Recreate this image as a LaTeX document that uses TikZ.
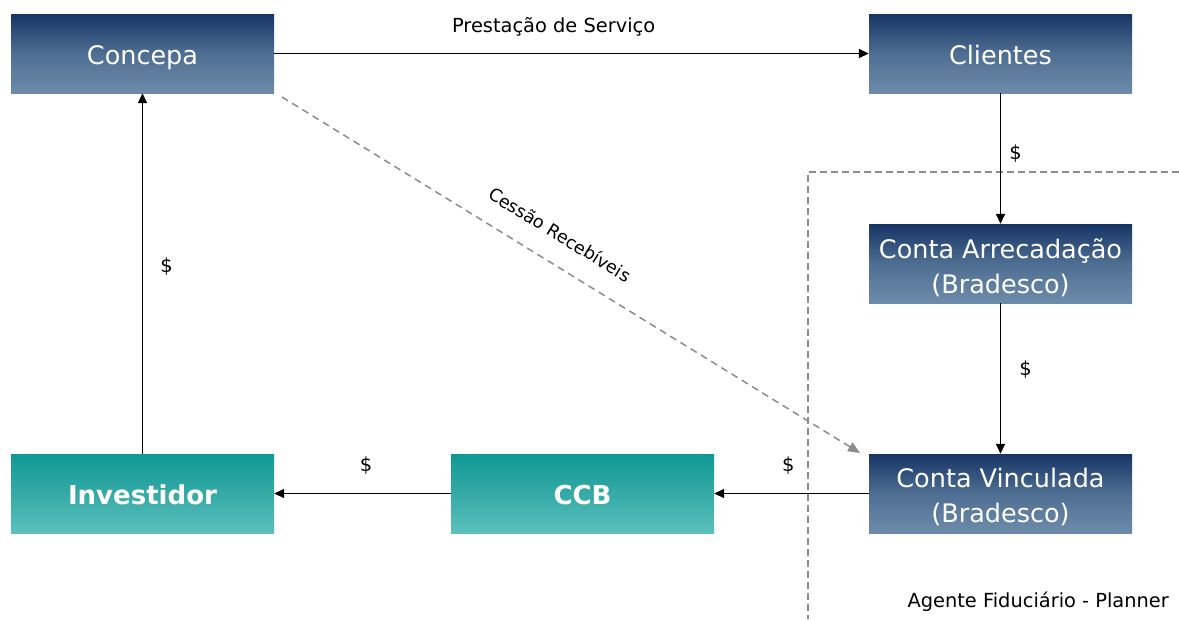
\documentclass[tikz,border=0pt]{standalone}
\usepackage{fontspec}
\setmainfont{DejaVu Sans}
\usetikzlibrary{arrows.meta}
\definecolor{navytop}{HTML}{163565}
\definecolor{navymid}{HTML}{4E6E92}
\definecolor{navybot}{HTML}{6D8CAB}
\definecolor{tealtop}{HTML}{0F9995}
\definecolor{tealmid}{HTML}{35AAA7}
\definecolor{tealbot}{HTML}{5CC0BD}
\definecolor{dashgray}{HTML}{8C8C8C}
\tikzset{
  navybox/.style={minimum width=263pt, minimum height=79pt, inner sep=0pt,
    top color=navytop, bottom color=navybot, middle color=navymid,
    text=white, font=\fontsize{25.5}{35}\selectfont, align=center},
  oneline/.style={text height=24pt, text depth=3pt},
  boxtext/.style={text=white, font=\fontsize{25.5}{35}\selectfont, align=center, inner sep=0pt},
  tealbox/.style={minimum width=263pt, minimum height=79pt, inner sep=0pt,
    top color=tealtop, bottom color=tealbot, middle color=tealmid,
    text=white, font=\fontsize{26}{30}\selectfont\bfseries, align=center,
    text height=24pt, text depth=3pt},
  flow/.style={line width=1.6pt, -{Triangle[length=10pt,width=9pt]}},
  dashflow/.style={line width=1.5pt, dashgray, dash pattern=on 7pt off 5pt,
    -{Triangle[length=12pt,width=10pt]}},
  border/.style={line width=1.4pt, dashgray, dash pattern=on 7pt off 4pt},
  lbl/.style={font=\fontsize{19.4}{23}\selectfont, text=black, inner sep=0pt},
  slbl/.style={font=\fontsize{17.6}{21}\selectfont, text=black, inner sep=0pt}
}
\begin{document}
\begin{tikzpicture}[x=1pt,y=-1pt]
\useasboundingbox (0,0) rectangle (1179,619);
% dashed border of Agente Fiduciario
\coordinate (bTop) at (1179,172);
\coordinate (bCorner) at (808,172);
\coordinate (bBot) at (808,619);
\draw[border] (bTop) -- (bCorner) -- (bBot);

\node[navybox, oneline] (concepa) at (142.5,53.5) {Concepa};
\node[navybox, oneline] (clientes) at (1000.5,53.5) {Clientes};
\node[navybox] (arrec) at (1000.5,263.5) {};
\node[navybox] (vinc) at (1000.5,493.5) {};
\node[boxtext, yshift=-4pt] (arrectxt) at (arrec.center) {Conta Arrecadação\\(Bradesco)};
\node[boxtext, yshift=-3pt] (vinctxt) at (vinc.center) {Conta Vinculada\\(Bradesco)};
\node[tealbox] (invest) at (142.5,493.5) {Investidor};
\node[tealbox] (ccb) at (582.5,493.5) {CCB};

\draw[flow] (concepa.east) -- node[lbl, pos=0.47, yshift=27pt] {Prestação de Serviço} (clientes.west);
\draw[flow] (clientes.south) -- node[lbl, pos=0.46, xshift=15pt] {\$} (arrec.north);
\draw[flow] (arrec.south) -- node[lbl, pos=0.44, xshift=25pt] {\$} (vinc.north);
\draw[flow] (vinc.west) -- node[lbl, pos=0.52, yshift=28pt] {\$} (ccb.east);
\draw[flow] (ccb.west) -- node[lbl, pos=0.48, yshift=28pt] {\$} (invest.east);
\draw[flow] (invest.north) -- node[lbl, pos=0.52, xshift=24pt] {\$} (concepa.south);

\coordinate (dStart) at (282,97);
\coordinate (dEnd) at (860,453);
\draw[dashflow] (dStart) -- node[slbl, pos=0.455, sloped, above=21pt] {Cessão Recebíveis} (dEnd);

\node[lbl, anchor=east] (agente) at (1169,602) {Agente Fiduciário - Planner};
\end{tikzpicture}
\end{document}
